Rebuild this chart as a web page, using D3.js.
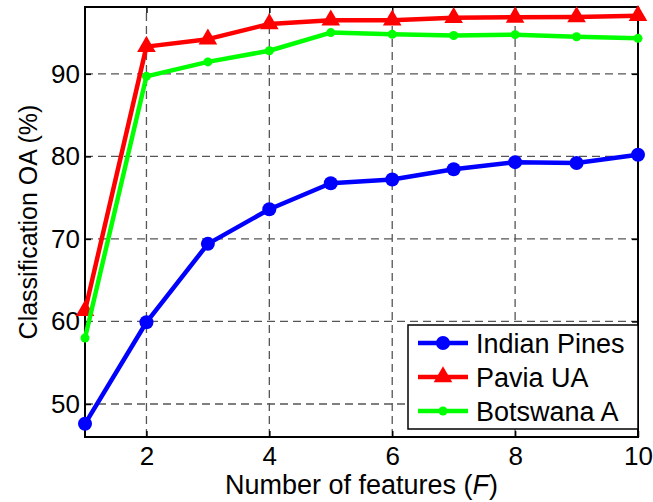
<!DOCTYPE html>
<html>
<head>
<meta charset="utf-8">
<script src="https://cdn.jsdelivr.net/npm/d3@7"></script>
<style>
  body { margin: 0; background: #fff; }
  text { font-family: "Liberation Sans", Arial, sans-serif; }
</style>
</head>
<body>
<div id="chart"></div>
<script>
// data
let features = [1, 2, 3, 4, 5, 6, 7, 8, 9, 10]
let indianPines = [47.6, 59.9, 69.4, 73.6, 76.75, 77.2, 78.45, 79.3, 79.2, 80.2]
let paviaUA = [61.3, 93.3, 94.2, 96.05, 96.5, 96.5, 96.8, 96.85, 96.9, 97.05]
let botswanaA = [58.0, 89.7, 91.45, 92.8, 95.0, 94.8, 94.65, 94.75, 94.5, 94.3]
let xTicks = [2, 4, 6, 8, 10]
let yTicks = [50, 60, 70, 80, 90]
let seriesNames = ["Indian Pines", "Pavia UA", "Botswana A"]

let svgWidth = 653, svgHeight = 502
let margin = {top: 7, right: 15, bottom: 65, left: 85}

let svg = d3.select("#chart").append("svg")
  .attr("width", svgWidth)
  .attr("height", svgHeight)

let xScale = d3.scaleLinear()
  .domain([1, 10])
  .range([margin.left, svgWidth - margin.right])

let yScale = d3.scaleLinear()
  .domain([46, 98.1])
  .range([svgHeight - margin.bottom, margin.top])

let x0 = xScale.range()[0], x1 = xScale.range()[1]
let y0 = yScale.range()[0], y1 = yScale.range()[1]

// grid
let grid = svg.append("g").attr("id", "grid")
grid.selectAll(".vgrid").data(xTicks.filter(d => d < 10)).enter()
  .append("line")
  .attr("x1", d => xScale(d)).attr("x2", d => xScale(d))
  .attr("y1", y0).attr("y2", y1)
  .attr("stroke", "#555").attr("stroke-width", 1.3)
  .attr("stroke-dasharray", "8,5")
grid.selectAll(".hgrid").data(yTicks).enter()
  .append("line")
  .attr("x1", x0).attr("x2", x1)
  .attr("y1", d => yScale(d)).attr("y2", d => yScale(d))
  .attr("stroke", "#555").attr("stroke-width", 1.3)
  .attr("stroke-dasharray", "8,5")

// axes
let xAxis = d3.axisBottom(xScale).tickValues(xTicks).tickSize(-6).tickPadding(10).tickSizeOuter(0)
let yAxis = d3.axisLeft(yScale).tickValues(yTicks).tickSize(-6).tickPadding(5).tickSizeOuter(0)
let xAxisTop = d3.axisTop(xScale).tickValues(xTicks).tickSize(-6).tickFormat("").tickSizeOuter(0)
let yAxisRight = d3.axisRight(yScale).tickValues(yTicks).tickSize(-6).tickFormat("").tickSizeOuter(0)

svg.append("g").attr("transform", "translate(0," + y0 + ")").call(xAxis)
svg.append("g").attr("transform", "translate(" + x0 + ",0)").call(yAxis)
svg.append("g").attr("transform", "translate(0," + y1 + ")").call(xAxisTop)
svg.append("g").attr("transform", "translate(" + x1 + ",0)").call(yAxisRight)

svg.selectAll(".tick line").attr("stroke", "#000").attr("stroke-width", 1.5)
svg.selectAll(".domain").remove()
svg.selectAll(".tick text").attr("font-size", 26).attr("fill", "#000")
  .attr("font-family", "'Liberation Sans', Arial, sans-serif")

svg.append("rect")
  .attr("x", x0).attr("y", y1)
  .attr("width", x1 - x0).attr("height", y0 - y1)
  .attr("fill", "none").attr("stroke", "#000").attr("stroke-width", 2)

// axis labels
let xl = svg.append("text")
  .attr("x", (x0 + x1) / 2).attr("y", 494)
  .attr("text-anchor", "middle").attr("font-size", 27)
xl.append("tspan").text("Number of features (")
xl.append("tspan").attr("font-style", "italic").text("F")
xl.append("tspan").text(")")

svg.append("text")
  .attr("transform", "translate(37," + ((y0 + y1) / 2) + ") rotate(-90)")
  .attr("text-anchor", "middle").attr("font-size", 25)
  .text("Classification OA (%)")

// series
let series = [
  {name: seriesNames[0], values: indianPines, color: "#0000ff", marker: "circle"},
  {name: seriesNames[1], values: paviaUA, color: "#ff0000", marker: "triangle"},
  {name: seriesNames[2], values: botswanaA, color: "#00ff00", marker: "dot"}
]

let line = d3.line()
  .x((d, i) => xScale(features[i]))
  .y(d => yScale(d))

function drawMarker(g, type, color) {
  if (type === "circle") {
    g.append("circle").attr("r", 7).attr("fill", color)
  } else if (type === "triangle") {
    g.append("path").attr("d", d3.symbol().type(d3.symbolTriangle).size(150)()).attr("fill", color)
  } else {
    g.append("circle").attr("r", 4.5).attr("fill", color)
  }
}

let linesArea = svg.append("g").attr("id", "linesArea")
series.forEach(function(s) {
  linesArea.append("path")
    .datum(s.values)
    .attr("d", line)
    .attr("fill", "none")
    .attr("stroke", s.color)
    .attr("stroke-width", 4.5)
    .attr("stroke-linejoin", "round")
  s.values.forEach(function(v, i) {
    let g = linesArea.append("g")
      .attr("transform", "translate(" + xScale(features[i]) + "," + yScale(v) + ")")
    drawMarker(g, s.marker, s.color)
  })
})

// legend
let legend = svg.append("g").attr("id", "legend")
legend.append("rect")
  .attr("x", 408).attr("y", 325)
  .attr("width", x1 - 408).attr("height", 104)
  .attr("fill", "#fff").attr("stroke", "#000").attr("stroke-width", 1.5)
series.forEach(function(s, i) {
  let ly = 343 + i * 34
  legend.append("line")
    .attr("x1", 418).attr("x2", 468)
    .attr("y1", ly).attr("y2", ly)
    .attr("stroke", s.color).attr("stroke-width", 4.5)
  let g = legend.append("g").attr("transform", "translate(443," + ly + ")")
  drawMarker(g, s.marker, s.color)
  legend.append("text")
    .attr("x", 476).attr("y", ly + 10)
    .attr("font-size", 27)
    .text(s.name)
})
</script>
</body>
</html>
